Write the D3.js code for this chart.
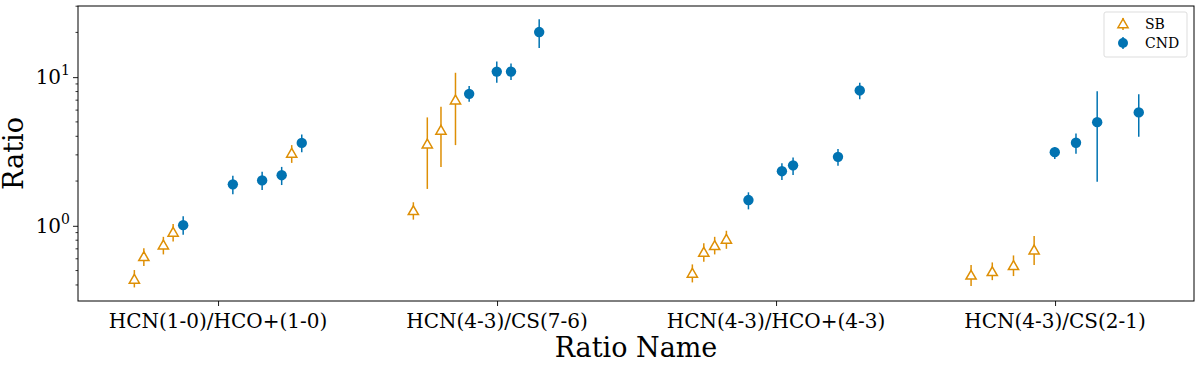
<!DOCTYPE html>
<html>
<head>
<meta charset="utf-8">
<script src="https://cdn.jsdelivr.net/npm/d3@7"></script>
<style>
  body { margin: 0; background: #fff; }
  text { font-family: "DejaVu Serif", serif; fill: #000; }
</style>
</head>
<body>
<div id="chart"></div>
<script>
// categories on the x axis
var ratioNames = ["HCN(1-0)/HCO+(1-0)", "HCN(4-3)/CS(7-6)", "HCN(4-3)/HCO+(4-3)", "HCN(4-3)/CS(2-1)"];

// SB points: category index, offset within category, value, lower, upper
var sbCat    = [0, 0, 0, 0, 0, 1, 1, 1, 1, 2, 2, 2, 2, 3, 3, 3, 3];
var sbOffset = [-0.300, -0.266, -0.196, -0.161, 0.264, -0.300, -0.250, -0.201, -0.149, -0.300, -0.259, -0.220, -0.178, -0.301, -0.225, -0.149, -0.075];
var sbValue  = [0.436, 0.619, 0.741, 0.903, 3.07, 1.26, 3.54, 4.38, 7.0, 0.478, 0.662, 0.734, 0.810, 0.464, 0.490, 0.538, 0.686];
var sbLow    = [0.385, 0.536, 0.642, 0.785, 2.65, 1.10, 1.77, 2.49, 3.49, 0.416, 0.573, 0.642, 0.700, 0.393, 0.431, 0.459, 0.544];
var sbHigh   = [0.504, 0.705, 0.843, 1.03, 3.49, 1.44, 5.36, 6.31, 10.7, 0.550, 0.762, 0.843, 0.926, 0.544, 0.567, 0.632, 0.853];

// CND points
var cndCat    = [0, 0, 0, 0, 0, 1, 1, 1, 1, 2, 2, 2, 2, 2, 3, 3, 3, 3];
var cndOffset = [-0.125, 0.053, 0.158, 0.228, 0.300, -0.100, -0.001, 0.050, 0.151, -0.099, 0.021, 0.061, 0.222, 0.300, -0.001, 0.075, 0.151, 0.300];
var cndValue  = [1.01, 1.90, 2.02, 2.19, 3.61, 7.72, 10.9, 10.9, 20.1, 1.49, 2.33, 2.55, 2.91, 8.14, 3.13, 3.62, 4.98, 5.79];
var cndLow    = [0.87, 1.63, 1.74, 1.88, 3.12, 6.82, 9.16, 9.55, 15.7, 1.29, 2.03, 2.20, 2.53, 7.11, 2.81, 3.05, 1.98, 3.97];
var cndHigh   = [1.16, 2.17, 2.31, 2.49, 4.12, 8.71, 12.75, 12.36, 24.5, 1.68, 2.63, 2.88, 3.28, 9.16, 3.37, 4.18, 8.05, 7.66];

var yTicks = [1, 10];
var yTickLabels = ["0", "1"];

var sbColor = "#DE8F05";
var cndColor = "#0173B2";

var svgWidth = 1200, svgHeight = 367;
var margin = { top: 6, right: 6, bottom: 66, left: 78 };
var width = svgWidth - margin.left - margin.right;
var height = svgHeight - margin.top - margin.bottom;

var svg = d3.select("#chart").append("svg")
    .attr("width", svgWidth)
    .attr("height", svgHeight);

var chartGroup = svg.append("g")
    .attr("transform", `translate(${margin.left}, ${margin.top})`);

// scales
var xScale = d3.scaleLinear()
    .domain([-0.502, 3.498])
    .range([0, width]);

var yScale = d3.scaleLog()
    .domain([0.312, 30.1])
    .range([height, 0]);

// build point tables
var sbData = sbValue.map(function(v, i) {
  return { x: sbCat[i] + sbOffset[i], y: v, lo: sbLow[i], hi: sbHigh[i] };
});
var cndData = cndValue.map(function(v, i) {
  return { x: cndCat[i] + cndOffset[i], y: v, lo: cndLow[i], hi: cndHigh[i] };
});

// minor ticks on log axis
var minorTicks = [];
[0.1, 1, 10].forEach(function(base) {
  for (var k = 2; k <= 9; k++) {
    var v = base * k;
    if (v > yScale.domain()[0] && v < yScale.domain()[1]) minorTicks.push(v);
  }
});
chartGroup.selectAll(".minor")
    .data(minorTicks)
    .enter().append("line")
    .attr("x1", -2.5).attr("x2", 0)
    .attr("y1", d => yScale(d)).attr("y2", d => yScale(d))
    .attr("stroke", "#000").attr("stroke-width", 0.8);

// y axis major ticks
var yAxis = d3.axisLeft(yScale).tickValues(yTicks).tickSize(5).tickFormat("");
var yAxisG = chartGroup.append("g").call(yAxis);
yAxisG.select(".domain").remove();
yAxisG.selectAll("line").attr("stroke-width", 0.9);

var yLabels = chartGroup.selectAll(".ylab")
    .data(yTicks)
    .enter().append("text")
    .attr("x", -8)
    .attr("y", d => yScale(d) + 7)
    .attr("text-anchor", "end")
    .attr("font-size", "20px");
yLabels.append("tspan").text("10");
yLabels.append("tspan")
    .attr("dy", -9)
    .attr("font-size", "14px")
    .text((d, i) => yTickLabels[i]);

// x axis
var xAxis = d3.axisBottom(xScale).tickValues([0, 1, 2, 3]).tickSize(5).tickFormat("");
var xAxisG = chartGroup.append("g")
    .attr("transform", `translate(0, ${height})`)
    .call(xAxis);
xAxisG.select(".domain").remove();
xAxisG.selectAll("line").attr("stroke-width", 0.9);

chartGroup.selectAll(".xlab")
    .data(ratioNames)
    .enter().append("text")
    .attr("x", (d, i) => xScale(i))
    .attr("y", height + 27)
    .attr("text-anchor", "middle")
    .attr("font-size", "20px")
    .text(d => d);

// frame
chartGroup.append("rect")
    .attr("width", width).attr("height", height)
    .attr("fill", "none").attr("stroke", "#000").attr("stroke-width", 1);

// axis titles
chartGroup.append("text")
    .attr("x", width / 2)
    .attr("y", height + 56)
    .attr("text-anchor", "middle")
    .attr("font-size", "27px")
    .text("Ratio Name");

chartGroup.append("text")
    .attr("transform", "rotate(-90)")
    .attr("x", -height / 2)
    .attr("y", -55)
    .attr("text-anchor", "middle")
    .attr("font-size", "27px")
    .text("Ratio");

// error bars
function drawErrors(data, color) {
  chartGroup.append("g").selectAll("line")
      .data(data)
      .enter().append("line")
      .attr("x1", d => xScale(d.x)).attr("x2", d => xScale(d.x))
      .attr("y1", d => yScale(d.lo)).attr("y2", d => yScale(d.hi))
      .attr("stroke", color).attr("stroke-width", 1.5);
}
drawErrors(sbData, sbColor);
drawErrors(cndData, cndColor);

var triangle = d3.symbol().type(d3.symbolTriangle).size(45);

// SB markers
chartGroup.append("g").selectAll("path")
    .data(sbData)
    .enter().append("path")
    .attr("d", triangle)
    .attr("transform", d => `translate(${xScale(d.x)}, ${yScale(d.y) + 0.8})`)
    .attr("fill", "#fff")
    .attr("stroke", sbColor)
    .attr("stroke-width", 1.5);

// CND markers
chartGroup.append("g").selectAll("circle")
    .data(cndData)
    .enter().append("circle")
    .attr("cx", d => xScale(d.x))
    .attr("cy", d => yScale(d.y))
    .attr("r", 5.2)
    .attr("fill", cndColor);

// legend
var legend = chartGroup.append("g")
    .attr("transform", `translate(${width - 90}, 6)`);
legend.append("rect")
    .attr("width", 83).attr("height", 45)
    .attr("rx", 2)
    .attr("fill", "#fff")
    .attr("stroke", "#ddd")
    .attr("stroke-width", 1);
legend.append("line")
    .attr("x1", 19).attr("x2", 19).attr("y1", 6).attr("y2", 18)
    .attr("stroke", sbColor).attr("stroke-width", 1.5);
legend.append("path")
    .attr("d", triangle)
    .attr("transform", "translate(19, 12.8)")
    .attr("fill", "#fff").attr("stroke", sbColor).attr("stroke-width", 1.5);
legend.append("line")
    .attr("x1", 19).attr("x2", 19).attr("y1", 25).attr("y2", 37)
    .attr("stroke", cndColor).attr("stroke-width", 1.5);
legend.append("circle")
    .attr("cx", 19).attr("cy", 31).attr("r", 5).attr("fill", cndColor);
legend.append("text")
    .attr("x", 41).attr("y", 17)
    .attr("font-size", "14px")
    .text("SB");
legend.append("text")
    .attr("x", 41).attr("y", 36)
    .attr("font-size", "14px")
    .text("CND");
</script>
</body>
</html>
